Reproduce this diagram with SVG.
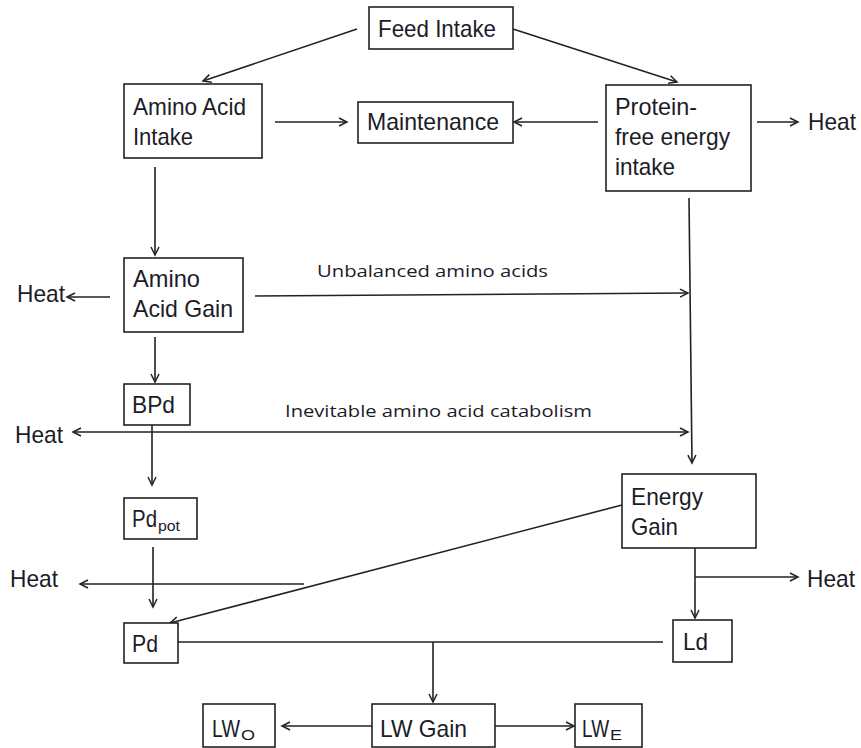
<svg xmlns="http://www.w3.org/2000/svg" width="861" height="748" viewBox="0 0 861 748">
<defs>
<marker id="arr" markerUnits="userSpaceOnUse" markerWidth="12" markerHeight="12" refX="9" refY="5" orient="auto-start-reverse">
<path d="M1,1 L9,5 L1,9" fill="none" stroke="#222" stroke-width="1.5"/>
</marker>
<style>
rect{fill:#fff;stroke:#222;stroke-width:1.6}
text{font-family:"Liberation Sans",Arial,sans-serif;font-size:24px;fill:#1c1c28}
.a{font-family:"Open Sans","Liberation Sans",sans-serif;font-size:17px}
.s{font-size:15px}
#connectors line,#connectors path{stroke:#222;stroke-width:1.6;fill:none}
</style>
</defs>
<rect x="0" y="0" width="861" height="748" style="fill:#fff;stroke:none"/>
<g id="connectors">
<line x1="357" y1="29" x2="203" y2="81" marker-end="url(#arr)"/>
<line x1="513" y1="29" x2="677" y2="82" marker-end="url(#arr)"/>
<line x1="275" y1="122" x2="347" y2="122" marker-end="url(#arr)"/>
<line x1="598" y1="122" x2="514" y2="122" marker-end="url(#arr)"/>
<line x1="757" y1="122" x2="798" y2="122" marker-end="url(#arr)"/>
<line x1="155" y1="167" x2="155" y2="255" marker-end="url(#arr)"/>
<line x1="110" y1="297" x2="67" y2="297" marker-end="url(#arr)"/>
<line x1="255" y1="296" x2="688" y2="293" marker-end="url(#arr)"/>
<line x1="689" y1="198" x2="692" y2="463" marker-end="url(#arr)"/>
<line x1="155" y1="337" x2="155" y2="382" marker-end="url(#arr)"/>
<line x1="73" y1="432" x2="688" y2="432" marker-start="url(#arr)" marker-end="url(#arr)"/>
<line x1="152" y1="425" x2="152" y2="485" marker-end="url(#arr)"/>
<line x1="153" y1="547" x2="153" y2="607" marker-end="url(#arr)"/>
<line x1="304" y1="584" x2="80" y2="584" marker-end="url(#arr)"/>
<line x1="622" y1="505" x2="170" y2="623" marker-end="url(#arr)"/>
<line x1="695" y1="548" x2="695" y2="618" marker-end="url(#arr)"/>
<line x1="695" y1="577" x2="798" y2="577" marker-end="url(#arr)"/>
<line x1="178" y1="642" x2="663" y2="642"/>
<line x1="433" y1="642" x2="433" y2="702" marker-end="url(#arr)"/>
<line x1="372" y1="726" x2="282" y2="726" marker-end="url(#arr)"/>
<line x1="495" y1="726" x2="574" y2="726" marker-end="url(#arr)"/>
</g>
<g id="feed-intake"><rect x="369" y="7" width="144" height="42"/><text x="378" y="37" textLength="118" lengthAdjust="spacingAndGlyphs">Feed Intake</text></g>
<g id="amino-acid-intake"><rect x="124" y="84" width="138" height="74"/><text x="133" y="115" textLength="113" lengthAdjust="spacingAndGlyphs">Amino Acid</text><text x="133" y="145" textLength="60" lengthAdjust="spacingAndGlyphs">Intake</text></g>
<g id="maintenance"><rect x="358" y="102" width="155" height="41"/><text x="367" y="130" textLength="132" lengthAdjust="spacingAndGlyphs">Maintenance</text></g>
<g id="protein-free"><rect x="606" y="85" width="145" height="106"/><text x="615" y="115" textLength="82" lengthAdjust="spacingAndGlyphs">Protein-</text><text x="615" y="145" textLength="115" lengthAdjust="spacingAndGlyphs">free energy</text><text x="615" y="175" textLength="60" lengthAdjust="spacingAndGlyphs">intake</text></g>
<g id="heat-1"><text x="808" y="130" textLength="48" lengthAdjust="spacingAndGlyphs">Heat</text></g>
<g id="amino-acid-gain"><rect x="124" y="258" width="119" height="74"/><text x="133" y="287" textLength="67" lengthAdjust="spacingAndGlyphs">Amino</text><text x="133" y="317" textLength="100" lengthAdjust="spacingAndGlyphs">Acid Gain</text></g>
<g id="heat-2"><text x="17" y="302" textLength="48" lengthAdjust="spacingAndGlyphs">Heat</text></g>
<g id="label-unbalanced"><text class="a" x="317" y="277" textLength="231" lengthAdjust="spacingAndGlyphs">Unbalanced amino acids</text></g>
<g id="bpd"><rect x="124" y="384" width="66" height="41"/><text x="132" y="413" textLength="43" lengthAdjust="spacingAndGlyphs">BPd</text></g>
<g id="heat-3"><text x="15" y="443" textLength="48" lengthAdjust="spacingAndGlyphs">Heat</text></g>
<g id="label-inevitable"><text class="a" x="285" y="417" textLength="307" lengthAdjust="spacingAndGlyphs">Inevitable amino acid catabolism</text></g>
<g id="pd-pot"><rect x="124" y="498" width="73" height="41"/><text x="132" y="527"><tspan textLength="25" lengthAdjust="spacingAndGlyphs">Pd</tspan><tspan class="s" dx="1" dy="4" textLength="22" lengthAdjust="spacingAndGlyphs">pot</tspan></text></g>
<g id="heat-4"><text x="10" y="587" textLength="48" lengthAdjust="spacingAndGlyphs">Heat</text></g>
<g id="energy-gain"><rect x="622" y="474" width="134" height="74"/><text x="631" y="505" textLength="72" lengthAdjust="spacingAndGlyphs">Energy</text><text x="631" y="535" textLength="47" lengthAdjust="spacingAndGlyphs">Gain</text></g>
<g id="heat-5"><text x="807" y="587" textLength="48" lengthAdjust="spacingAndGlyphs">Heat</text></g>
<g id="pd"><rect x="124" y="623" width="54" height="40"/><text x="132" y="652" textLength="26" lengthAdjust="spacingAndGlyphs">Pd</text></g>
<g id="ld"><rect x="673" y="620" width="59" height="42"/><text x="683" y="650" textLength="25" lengthAdjust="spacingAndGlyphs">Ld</text></g>
<g id="lw-o"><rect x="203" y="704" width="72" height="43"/><text x="212" y="737"><tspan textLength="28" lengthAdjust="spacingAndGlyphs">LW</tspan><tspan class="s" dx="1" dy="3" textLength="14" lengthAdjust="spacingAndGlyphs">O</tspan></text></g>
<g id="lw-gain"><rect x="372" y="704" width="123" height="43"/><text x="380" y="737" textLength="87" lengthAdjust="spacingAndGlyphs">LW Gain</text></g>
<g id="lw-e"><rect x="575" y="704" width="67" height="43"/><text x="582" y="737"><tspan textLength="27" lengthAdjust="spacingAndGlyphs">LW</tspan><tspan class="s" dx="1" dy="3" textLength="12" lengthAdjust="spacingAndGlyphs">E</tspan></text></g>
</svg>
